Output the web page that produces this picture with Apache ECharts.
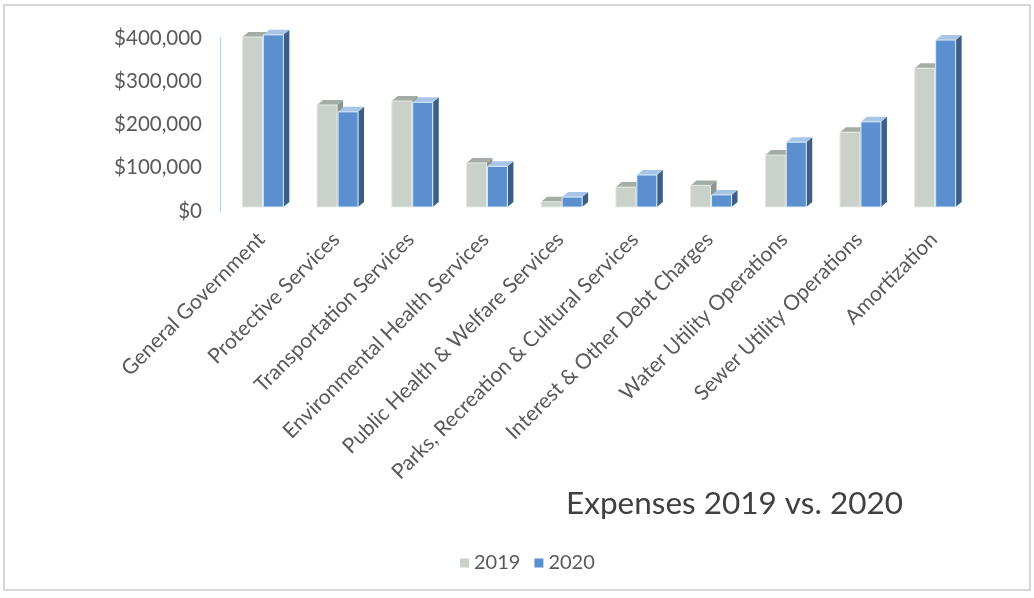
<!DOCTYPE html>
<html>
<head>
<meta charset="utf-8">
<title>Expenses 2019 vs. 2020</title>
<script src="https://cdn.jsdelivr.net/npm/echarts@6/dist/echarts.min.js"></script>
<style>
  html, body { margin: 0; padding: 0; background: #ffffff; }
  #chart { width: 1034px; height: 598px; }
</style>
</head>
<body>
<div id="chart"></div>
<script>
// Expense categories (x axis)
const categories = [
  'General Government',
  'Protective Services',
  'Transportation Services',
  'Environmental Health Services',
  'Public Health & Welfare Services',
  'Parks, Recreation & Cultural Services',
  'Interest & Other Debt Charges',
  'Water Utility Operations',
  'Sewer Utility Operations',
  'Amortization'
];

// Expenses per year, in dollars
const expenses2019 = [393000, 236000, 245000, 102000, 12000, 46000, 50000, 120000, 173000, 321000];
const expenses2020 = [398000, 220000, 242000, 94000, 23000, 74000, 28000, 150000, 197000, 386000];

// Value axis ticks
const yTicks = [0, 100000, 200000, 300000, 400000];

const FONT = 'Lato, "Open Sans", sans-serif';
const TEXT = '#595959';

// Faces of the extruded bars: front, top, side
const palette = {
  '2019': { front: '#c9d1ca', top: '#a3aca5', side: '#8e968f', edge: '#e6ebe6' },
  '2020': { front: '#5b8fd0', top: '#a9c5e6', side: '#3b5f88', edge: '#dfeefa' }
};

// Horizontal placement of each year's bar relative to the category centre
const barOffset = { '2019': -19, '2020': 2 };
const BAR_W = 20, DEPTH_X = 6, DEPTH_Y = 5, LIFT = 4;

function boxBar(year) {
  const c = palette[year];
  return function (params, api) {
    const idx = api.value(0);
    const top = api.coord([idx, api.value(1)]);
    const base = api.coord([idx, 0]);
    const x0 = top[0] + barOffset[year];
    const x1 = x0 + BAR_W;
    const yT = top[1] - LIFT;
    const yB = base[1] - LIFT;
    return {
      type: 'group',
      children: [
        {
          type: 'polygon',
          shape: { points: [[x1, yT], [x1 + DEPTH_X, yT - DEPTH_Y], [x1 + DEPTH_X, yB - DEPTH_Y], [x1, yB]] },
          style: { fill: c.side }
        },
        {
          type: 'polygon',
          shape: { points: [[x0, yT], [x0 + DEPTH_X, yT - DEPTH_Y], [x1 + DEPTH_X, yT - DEPTH_Y], [x1, yT]] },
          style: { fill: c.top }
        },
        {
          type: 'rect',
          shape: { x: x0, y: yT, width: BAR_W, height: yB - yT },
          style: { fill: c.front, stroke: c.edge, lineWidth: 1 }
        }
      ]
    };
  };
}

const chart = echarts.init(document.getElementById('chart'), null, { renderer: 'canvas' });

chart.setOption({
  backgroundColor: '#ffffff',
  animation: false,
  title: {
    text: 'Expenses 2019 vs. 2020',
    left: 561,
    top: 483,
    textStyle: { fontFamily: FONT, fontSize: 31.5, fontWeight: 'normal', color: '#404040' }
  },
  legend: {
    left: 455,
    top: 548,
    itemWidth: 9,
    itemHeight: 9,
    itemGap: 14,
    icon: 'rect',
    textStyle: { fontFamily: FONT, fontSize: 20, color: TEXT },
    data: [
      { name: '2019', itemStyle: { color: '#c9d1ca' } },
      { name: '2020', itemStyle: { color: '#5b8fd0' } }
    ]
  },
  graphic: [
    {
      type: 'rect',
      shape: { x: 4, y: 5, width: 1026, height: 585 },
      style: { fill: 'none', stroke: '#c9cbc9', lineWidth: 1.5 },
      silent: true
    }
  ],
  grid: { left: 224, right: 63, top: 38, bottom: 387 },
  xAxis: {
    type: 'category',
    data: categories,
    axisLine: { show: false },
    axisTick: { show: false },
    axisLabel: {
      interval: 0,
      rotate: 45,
      margin: 25,
      fontFamily: FONT,
      fontSize: 21,
      color: TEXT
    }
  },
  yAxis: {
    type: 'value',
    min: yTicks[0],
    max: yTicks[yTicks.length - 1],
    interval: yTicks[1] - yTicks[0],
    offset: 4,
    axisLine: { show: true, lineStyle: { color: '#9dc3e2', type: 'dotted', width: 1 } },
    axisTick: { show: false },
    splitLine: { show: false },
    axisLabel: {
      margin: 18,
      fontFamily: FONT,
      fontSize: 20.5,
      color: TEXT,
      formatter: function (v) { return v === 0 ? '$0' : '$' + v.toLocaleString('en-US'); }
    }
  },
  series: [
    {
      name: '2019',
      type: 'custom',
      renderItem: boxBar('2019'),
      itemStyle: { color: '#c9d1ca' },
      encode: { x: 0, y: 1 },
      data: expenses2019.map((v, i) => [i, v])
    },
    {
      name: '2020',
      type: 'custom',
      renderItem: boxBar('2020'),
      itemStyle: { color: '#5b8fd0' },
      encode: { x: 0, y: 1 },
      data: expenses2020.map((v, i) => [i, v])
    }
  ]
});
</script>
</body>
</html>
